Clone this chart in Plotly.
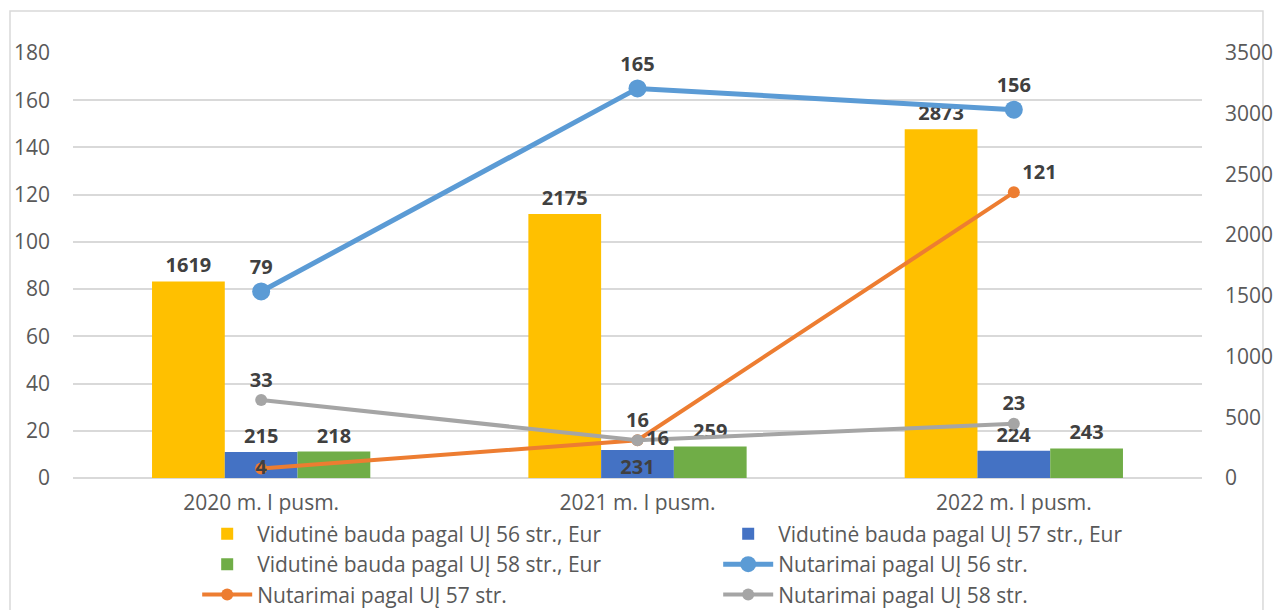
import plotly.graph_objects as go

categories = ["2020 m. I pusm.", "2021 m. I pusm.", "2022 m. I pusm."]
bauda_56 = [1619, 2175, 2873]
bauda_57 = [215, 231, 224]
bauda_58 = [218, 259, 243]
nut_56 = [79, 165, 156]
nut_57 = [4, 16, 121]
nut_58 = [33, 16, 23]

names = [
    "Vidutinė bauda pagal UĮ 56 str., Eur",
    "Vidutinė bauda pagal UĮ 57 str., Eur",
    "Vidutinė bauda pagal UĮ 58 str., Eur",
    "Nutarimai pagal UĮ 56 str.",
    "Nutarimai pagal UĮ 57 str.",
    "Nutarimai pagal UĮ 58 str.",
]

FONT = "Open Sans"
LBL = dict(family=FONT, size=20, color="#404040", weight="bold")
TICK = dict(family=FONT, size=21, color="#595959")

fig = go.Figure()
# bars on the right-hand axis (y), lines on the left-hand axis (y2, drawn on top)
bar_pos = [["outside"] * 3, ["outside", "inside", "outside"], ["outside"] * 3]
for (vals, col, nm), tp in zip([(bauda_56, "#FFC000", names[0]),
                                (bauda_57, "#4472C4", names[1]),
                                (bauda_58, "#70AD47", names[2])], bar_pos):
    fig.add_trace(go.Bar(x=categories, y=vals, name=nm, yaxis="y",
                         marker=dict(color=col, line=dict(width=0)),
                         text=[str(v) for v in vals], textposition=tp,
                         insidetextanchor="end", constraintext="none",
                         textfont=LBL, insidetextfont=LBL, outsidetextfont=LBL,
                         cliponaxis=False))

fig.add_trace(go.Scatter(x=categories, y=nut_56, name=names[3], mode="lines+markers+text", yaxis="y2",
                         line=dict(color="#5B9BD5", width=5), marker=dict(size=18, color="#5B9BD5"),
                         text=[str(v) for v in nut_56], textposition="top center",
                         textfont=LBL, cliponaxis=False))
fig.add_trace(go.Scatter(x=categories, y=nut_57, name=names[4], mode="lines+markers+text", yaxis="y2",
                         line=dict(color="#ED7D31", width=4), marker=dict(size=12, color="#ED7D31"),
                         text=[str(v) for v in nut_57],
                         textposition=["middle center", "top center", "top right"],
                         textfont=LBL, cliponaxis=False))
fig.add_trace(go.Scatter(x=categories, y=nut_58, name=names[5], mode="lines+markers+text", yaxis="y2",
                         line=dict(color="#A5A5A5", width=4), marker=dict(size=12, color="#A5A5A5"),
                         text=[str(v) for v in nut_58],
                         textposition=["top center", "middle right", "top center"],
                         textfont=LBL, cliponaxis=False))

fig.update_layout(
    width=1288, height=610,
    margin=dict(l=73, r=86, t=53, b=132, autoexpand=False),
    paper_bgcolor="white", plot_bgcolor="white",
    font=dict(family=FONT, size=21, color="#595959"),
    barmode="group", bargap=0.42, bargroupgap=0,
    xaxis=dict(showgrid=False, showline=False, ticks="", tickfont=TICK, ticklabelstandoff=10),
    yaxis=dict(range=[0, 3500], dtick=500, side="right", showgrid=False,
               zeroline=False, tickfont=TICK, ticklabelstandoff=22),
    yaxis2=dict(range=[0, 180], dtick=20, side="left", overlaying="y", showgrid=True,
                gridcolor="#D9D9D9", gridwidth=1.5,
                zeroline=True, zerolinecolor="#D9D9D9", zerolinewidth=1.5,
                tickfont=TICK, ticklabelstandoff=22, layer="below traces"),
    legend=dict(orientation="h", x=0.11, xanchor="left", y=-0.084, yanchor="top",
                entrywidth=456, entrywidthmode="pixels", traceorder="normal",
                font=dict(size=21, color="#595959"), tracegroupgap=0, itemwidth=50),
    shapes=[dict(type="rect", xref="paper", yref="paper", x0=-0.0558, x1=1.054,
                 y0=-0.4, y1=1.0988, line=dict(color="#D9D9D9", width=1.5), layer="below")],
)

fig.write_html("out.html", config={"displayModeBar": False},
               post_script="document.body.style.margin='0';")
